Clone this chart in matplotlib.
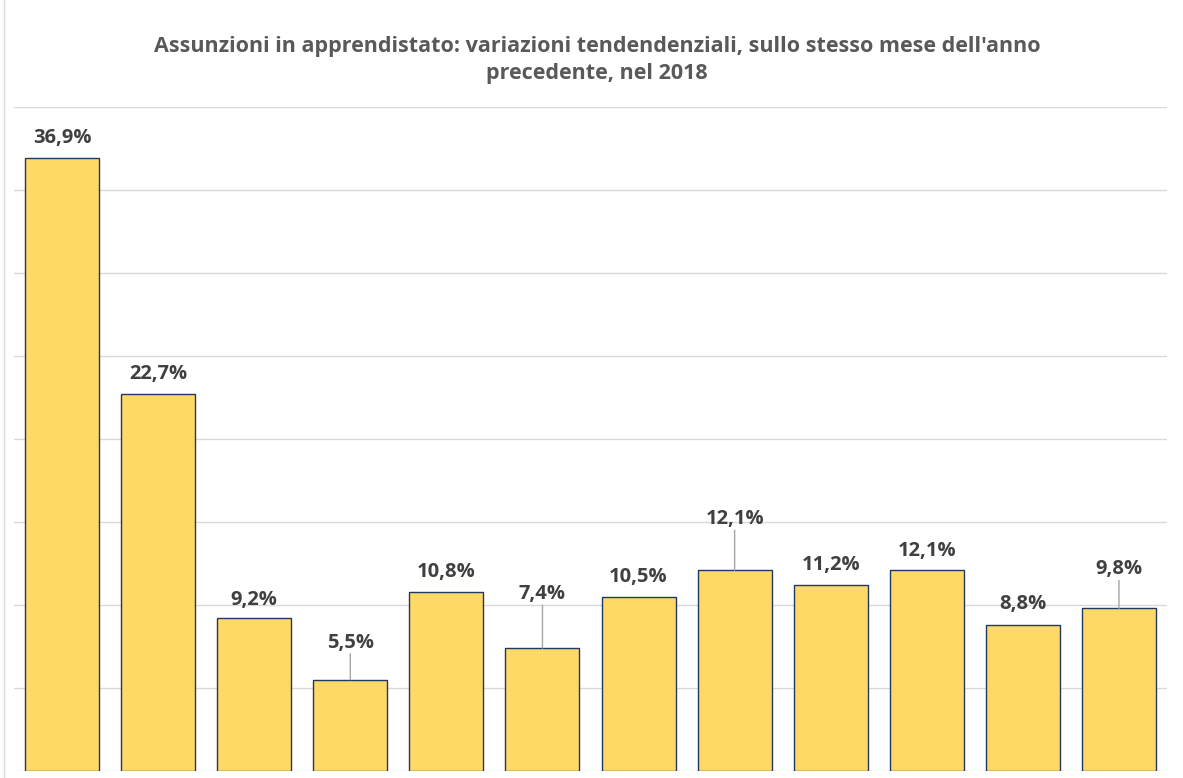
import matplotlib
matplotlib.use("Agg")
import matplotlib.pyplot as plt
from matplotlib import font_manager

# monthly variations (%) - Jan..Dec 2018
months = ["gen", "feb", "mar", "apr", "mag", "giu", "lug", "ago", "set", "ott", "nov", "dic"]
values = [36.9, 22.7, 9.2, 5.5, 10.8, 7.4, 10.5, 12.1, 11.2, 12.1, 8.8, 9.8]
labels = ["36,9%", "22,7%", "9,2%", "5,5%", "10,8%", "7,4%", "10,5%", "12,1%", "11,2%", "12,1%", "8,8%", "9,8%"]

title = ("Assunzioni in apprendistato: variazioni tendendenziali, sullo stesso mese dell'anno\n"
         "precedente, nel 2018")

# label offsets above bar top (pixels); leader line where the gap is large
label_off = [20, 20, 18, 37, 20, 54, 20, 51, 20, 19, 21, 39]
leader = [False, False, False, True, False, True, False, True, False, False, False, True]

names = {f.name for f in font_manager.fontManager.ttflist}
fam = "Liberation Sans Narrow" if "Liberation Sans Narrow" in names else "Open Sans"
plt.rcParams["font.family"] = [fam, "DejaVu Sans"]

fig = plt.figure(figsize=(11.83, 7.78), dpi=100)
ax = fig.add_axes([14 / 1183, 7 / 778, 1153 / 1183, 664 / 778])

x = range(len(values))
ax.bar(x, values, width=0.77, color="#FFD966", edgecolor="#1F3864", linewidth=1.0, zorder=3)

ax.set_xlim(-0.5, 11.5)
ax.set_ylim(0, 40)
ax.set_yticks(range(0, 41, 5))
ax.yaxis.grid(True, color="#D9D9D9", linewidth=1.0, zorder=0)
ax.set_xticks([])
ax.tick_params(left=False, labelleft=False)
for s in ax.spines.values():
    s.set_visible(False)

for i, v in enumerate(values):
    ax.annotate(labels[i], xy=(i, v), xytext=(0, label_off[i]), textcoords="offset pixels",
                ha="center", va="center", fontsize=14.5, fontweight="bold", color="#404040")
    if leader[i]:
        ax.annotate("", xy=(i, v), xytext=(0, label_off[i] - 11), textcoords="offset pixels",
                    arrowprops=dict(arrowstyle="-", color="#A6A6A6", lw=1.0, shrinkA=0, shrinkB=0))

fig.text(597 / 1183, 1 - 60 / 778, title, ha="center", va="center", fontsize=15.5,
         fontweight="bold", color="#595959", linespacing=1.4)

# faint chart-area border on the left
fig.add_artist(plt.Line2D([4 / 1183, 4 / 1183], [0, 1], color="#D9D9D9", lw=1.0))

fig.savefig("out.png", dpi=100)
